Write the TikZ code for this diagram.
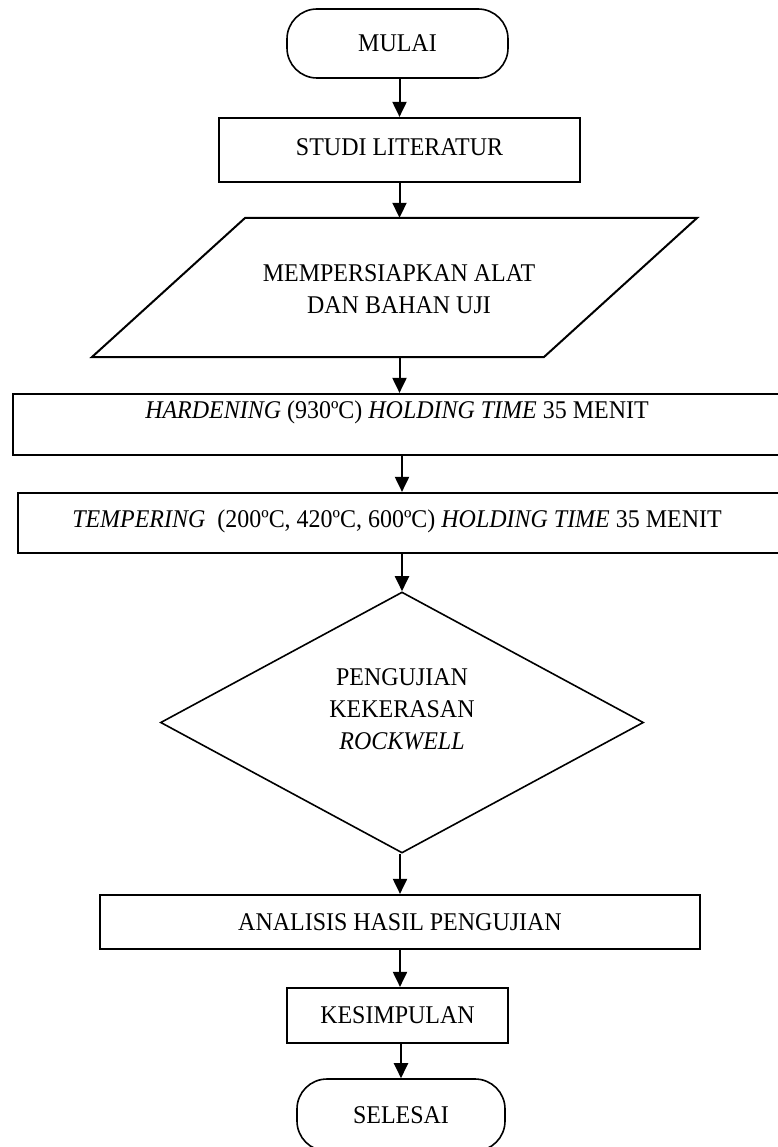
\documentclass[tikz,border=0pt]{standalone}
\usepackage{fontspec}
\setmainfont{Liberation Serif}[FakeStretch=0.94]
\usetikzlibrary{arrows.meta,shapes.geometric}
\begin{document}
\begin{tikzpicture}[x=1pt,y=-1pt,
  box/.style={draw, line width=2.2pt, rectangle, inner sep=0pt},
  term/.style={draw, line width=1.6pt, rectangle, rounded corners=30pt, inner sep=0pt},
  dec/.style={draw, line width=1.6pt, diamond, inner sep=0pt},
  txt/.style={font=\fontsize{25.5}{32}\selectfont, align=center, inner sep=0pt},
  arr/.style={-{Triangle[length=15pt,width=14pt]}, line width=2pt},
]
\useasboundingbox (0,0) rectangle (777,1147);

\node[term, minimum width=221pt, minimum height=69pt] (mulai) at (397.5,43.5) {};
\node[txt] (mulaiT) at (mulai) {MULAI};

\node[box, minimum width=361pt, minimum height=64pt] (studi) at (399.5,150) {};
\node[txt] (studiT) at (399.5,147) {STUDI LITERATUR};

\node[inner sep=0pt, minimum width=452pt, minimum height=139pt] (par) at (394.5,287.5) {};
\draw[line width=2pt, line join=miter] (245,218) -- (697,218) -- (544,357) -- (92,357) -- cycle;
\node[txt] (parT) at (399,289) {MEMPERSIAPKAN ALAT\\DAN BAHAN UJI};

\node[box, minimum width=768pt, minimum height=61pt] (hard) at (397,424.5) {};
\node[txt] (hardT) at (397,412) {\textit{HARDENING} (930ºC) \textit{HOLDING TIME} 35 MENIT};

\node[box, minimum width=763pt, minimum height=60pt] (temp) at (399.5,523) {};
\node[txt] (tempT) at (397,521) {\textit{TEMPERING}\ \ (200ºC, 420ºC, 600ºC) \textit{HOLDING TIME} 35 MENIT};

\node[dec, minimum width=483pt, minimum height=261pt] (diam) at (402,722.5) {};
\node[txt] (diamT) at (402,709) {PENGUJIAN\\KEKERASAN\\\textit{ROCKWELL}};

\node[box, minimum width=600pt, minimum height=54pt] (anal) at (400,922) {};
\node[txt] (analT) at (anal) {ANALISIS HASIL PENGUJIAN};

\node[box, minimum width=221pt, minimum height=55pt] (kes) at (397.5,1015.5) {};
\node[txt] (kesT) at (kes) {KESIMPULAN};

\node[term, minimum width=208pt, minimum height=72pt] (sel) at (401,1115) {};
\node[txt] (selT) at (sel) {SELESAI};

\draw[arr] (studi.north |- mulai.south) -- (studi.north);
\draw[arr] (studi.south) -- (studi.south |- par.north);
\draw[arr] (studi.south |- par.south) -- (studi.south |- hard.north);
\draw[arr] (diam.north |- hard.south) -- (diam.north |- temp.north);
\draw[arr] (diam.north |- temp.south) -- (diam.north);
\draw[arr] (anal.north |- diam.south) -- (anal.north);
\draw[arr] (anal.south) -- (anal.south |- kes.north);
\draw[arr] (sel.north |- kes.south) -- (sel.north);
\end{tikzpicture}
\end{document}
